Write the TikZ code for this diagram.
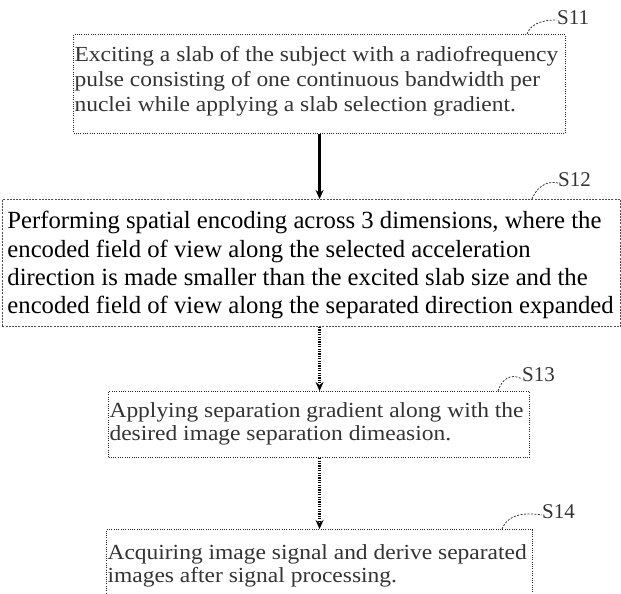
\documentclass[tikz,border=0pt]{standalone}
\usepackage{fontspec}
\setmainfont{Liberation Serif}
\newfontfamily\widefont[FakeStretch=1.092]{Liberation Serif}
\usetikzlibrary{arrows.meta}
\tikzset{
  box/.style={draw=black!85, line width=1.1pt, dash pattern=on 1pt off 1.3pt, inner sep=0pt, anchor=north west, text=black!80},
  bigbox/.style={draw=black!70, line width=0.9pt, dash pattern=on 2pt off 1.2pt, inner sep=0pt, anchor=north west},
  lbl/.style={inner sep=0pt, font=\fontsize{21}{21}\selectfont, text=black!80},
  leader/.style={draw=black!80, line width=0.8pt, dash pattern=on 2pt off 1.5pt},
  solidarrow/.style={draw=black, line width=3pt, -{Stealth[length=9pt,width=8pt]}},
  dotarrow/.style={draw=black, line width=2.4pt, dash pattern=on 1.2pt off 1.2pt, -{Stealth[length=9pt,width=8pt]}}
}
\begin{document}
\begin{tikzpicture}[x=1pt,y=-1pt]
\useasboundingbox (0,0) rectangle (621,594);
\clip (0,0) rectangle (621,594);
% boxes
\node[box] (s11) at (73,34) {\parbox[c][99pt][t]{492pt}{\widefont\fontsize{21.5}{25}\selectfont\vspace*{12pt}\hspace*{1pt}Exciting a slab of the subject with a radiofrequency\\\hspace*{1pt}pulse consisting of one continuous bandwidth per\\\hspace*{1pt}nuclei while applying a slab selection gradient.}};
\node[bigbox] (s12) at (2,199) {\parbox[c][127pt][t]{618pt}{\fontsize{24.7}{28.3}\selectfont\vspace*{12pt}\hspace*{5pt}Performing spatial encoding across 3 dimensions, where the\\\hspace*{5pt}encoded field of view along the selected acceleration\\\hspace*{5pt}direction is made smaller than the excited slab size and the\\\hspace*{5pt}encoded field of view along the separated direction expanded}};
\node[box] (s13) at (108,391) {\parbox[c][66pt][t]{421pt}{\widefont\fontsize{21.5}{23}\selectfont\vspace*{11pt}\hspace*{1pt}Applying separation gradient along with the\\\hspace*{1pt}desired image separation dimeasion.}};
\node[box] (s14) at (106,529) {\parbox[c][90pt][t]{426pt}{\widefont\fontsize{21.5}{23}\selectfont\vspace*{15pt}\hspace*{1pt}Acquiring image signal and derive separated\\\hspace*{1pt}images after signal processing.}};
% labels
\node[lbl, anchor=west] (l11) at (557,18) {S11};
\node[lbl, anchor=west] (l12) at (558,180) {S12};
\node[lbl, anchor=west] (l13) at (522,375) {S13};
\node[lbl, anchor=west] (l14) at (542,512) {S14};
\coordinate (c11) at (527,34);
\coordinate (c12) at (532,199);
\coordinate (c13) at (498,391);
\coordinate (c14) at (502,529);
\draw[leader] (c11) .. controls (530,26) and (538,20) .. ([yshift=-2pt]l11.west);
\draw[leader] (c12) .. controls (536,189) and (545,180) .. ([yshift=-3pt]l12.west);
\draw[leader] (c13) .. controls (501,381) and (510,372) .. ([yshift=-4pt]l13.west);
\draw[leader] (c14) .. controls (506,519) and (516,511) .. ([yshift=-3pt]l14.west);
% arrows
\draw[solidarrow] (s11.south) -- (s11.south |- s12.north);
\draw[dotarrow] (s11.south |- s12.south) -- (s11.south |- s13.north);
\draw[dotarrow] (s11.south |- s13.south) -- (s11.south |- s14.north);
\end{tikzpicture}
\end{document}
